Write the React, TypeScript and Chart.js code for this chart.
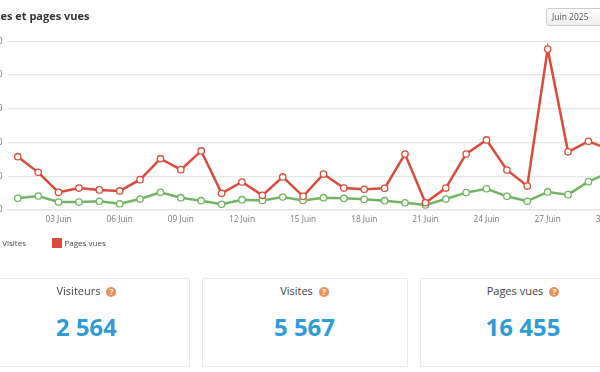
import React, { useEffect, useRef } from "react";
import { Chart, registerables } from "chart.js";

Chart.register(...registerables);

const days = Array.from({ length: 30 }, (_, i) => `${String(i + 1).padStart(2, "0")} Juin`);
const visites = [69, 83, 47, 47, 52, 37, 65, 105, 73, 55, 34, 61, 57, 77, 57, 73, 69, 63, 55, 43, 30, 65, 103, 126, 81, 52, 107, 91, 168, 221];
const pagesVues = [316, 223, 105, 130, 119, 113, 180, 304, 239, 350, 99, 166, 87, 196, 81, 213, 130, 123, 129, 332, 43, 130, 332, 415, 237, 142, 954, 345, 407, 361];
const cards = [
  { title: "Visiteurs", value: "2 564", left: -16.5 },
  { title: "Visites", value: "5 567", left: 201.5 },
  { title: "Pages vues", value: "16 455", left: 420 },
];
const FONT = '"Open Sans", sans-serif';
const GREEN = "#6fb65f";
const RED = "#db4a3a";

function Help() {
  return (
    <span
      style={{
        display: "inline-block",
        width: 10,
        height: 10,
        borderRadius: "50%",
        background: "#ef8f57",
        color: "#fff",
        fontSize: 8,
        fontWeight: 700,
        lineHeight: "10px",
        textAlign: "center",
        marginLeft: 6,
        verticalAlign: 0,
      }}
    >
      ?
    </span>
  );
}

export default function App() {
  const ref = useRef<HTMLCanvasElement>(null);
  useEffect(() => {
    const chart = new Chart(ref.current!, {
      type: "line",
      data: {
        labels: days,
        datasets: [
          {
            label: "Visites",
            data: visites,
            borderColor: GREEN,
            backgroundColor: "#fff",
            borderWidth: 2.5,
            pointRadius: 3.2,
            pointBorderWidth: 1.3,
            pointBackgroundColor: "#fff",
            tension: 0,
            order: 2,
          },
          {
            label: "Pages vues",
            data: pagesVues,
            borderColor: RED,
            backgroundColor: "#fff",
            borderWidth: 2.5,
            pointRadius: 3.2,
            pointBorderWidth: 1.3,
            pointBackgroundColor: "#fff",
            tension: 0,
            order: 1,
          },
        ],
      },
      options: {
        animation: false,
        responsive: false,
        layout: { padding: { top: 41.25, bottom: 0, left: 0, right: 41 } },
        plugins: { legend: { display: false }, tooltip: { enabled: false } },
        scales: {
          x: {
            offset: true,
            grid: { display: false, tickLength: 0 },
            border: { color: "#e4e4e4", width: 1.5 },
            afterFit: (s: any) => {
              s.height = 30;
            },
            ticks: {
              autoSkip: false,
              maxRotation: 0,
              color: "#777",
              padding: 5,
              font: { family: FONT, size: 8.3 },
              callback: (_v: any, i: number) => (i % 3 === 2 ? days[i] : ""),
            },
          },
          y: {
            min: 0,
            max: 1000,
            grid: { color: "#e6e6e6", lineWidth: 1.3, drawTicks: false },
            border: { display: false },
            afterFit: (s: any) => {
              s.width = 47.6;
            },
            ticks: {
              stepSize: 200,
              color: "#777",
              padding: 5,
              font: { family: FONT, size: 8.3 },
            },
          },
        },
      },
    });
    return () => chart.destroy();
  }, []);

  return (
    <div
      style={{
        position: "absolute",
        left: 0,
        top: 0,
        width: 600,
        height: 372,
        overflow: "hidden",
        background: "#fff",
        fontFamily: FONT,
        filter: "blur(0.35px)",
      }}
    >
      <canvas ref={ref} width={700} height={240} style={{ position: "absolute", left: -40, top: 0, width: 700, height: 240 }} />
      <div
        style={{
          position: "absolute",
          right: 510.5,
          top: 6,
          whiteSpace: "nowrap",
          fontSize: 11,
          fontWeight: 700,
          color: "#333",
          lineHeight: "20px",
        }}
      >
        Visites et pages vues
      </div>
      <div
        style={{
          position: "absolute",
          left: 546,
          top: 8,
          width: 80,
          height: 18,
          boxSizing: "border-box",
          border: "1px solid #ccc",
          borderRadius: 3,
          background: "linear-gradient(#fff,#eee)",
          fontSize: 8.5,
          lineHeight: "16px",
          paddingLeft: 5,
          color: "#555",
        }}
      >
        Juin 2025
      </div>
      <div style={{ position: "absolute", right: 574, top: 236, fontSize: 8, lineHeight: "14px", color: "#444" }}>Visites</div>
      <div style={{ position: "absolute", left: -12, top: 238, width: 10, height: 10, background: GREEN }} />
      <div style={{ position: "absolute", left: 52, top: 238, width: 10, height: 10, background: RED }} />
      <div style={{ position: "absolute", left: 64.5, top: 236, fontSize: 8, lineHeight: "14px", color: "#444", whiteSpace: "nowrap" }}>Pages vues</div>
      {cards.map((c) => (
        <div
          key={c.title}
          style={{
            position: "absolute",
            left: c.left,
            top: 278,
            width: 206,
            height: 89,
            boxSizing: "border-box",
            border: "1px solid #e8e8e8",
            textAlign: "center",
          }}
        >
          <div style={{ marginTop: 3, fontSize: 11, lineHeight: "18px", color: "#444" }}>
            {c.title}
            <Help />
          </div>
          <div style={{ marginTop: 10, fontSize: 24, fontWeight: 700, lineHeight: "34px", color: "#2f9bd8" }}>{c.value}</div>
        </div>
      ))}
    </div>
  );
}
